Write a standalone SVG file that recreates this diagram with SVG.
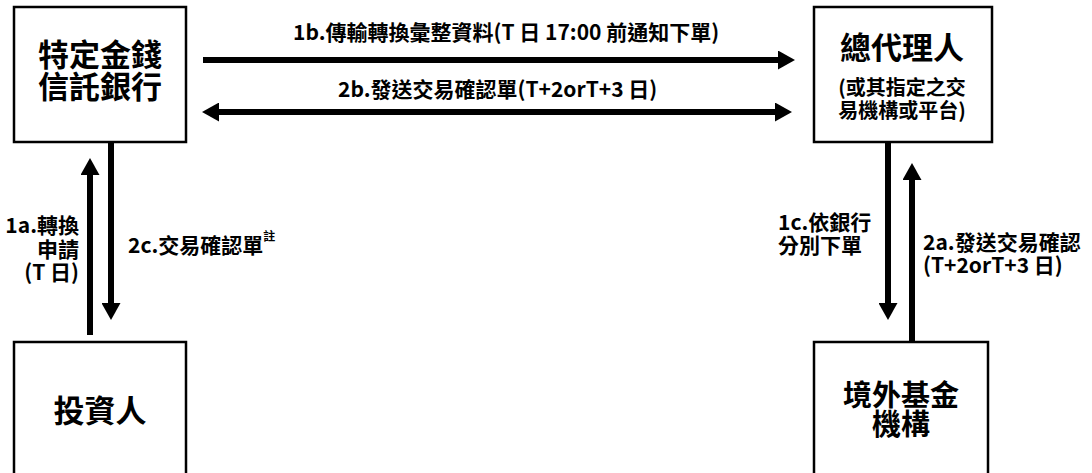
<svg xmlns="http://www.w3.org/2000/svg" width="1092" height="473" viewBox="0 0 1092 473">
<style>
  .box { fill: #ffffff; stroke: #000000; stroke-width: 2.5; }
  .t { font-family: "Noto Sans CJK TC", "Noto Sans", sans-serif; fill: #000000; font-weight: bold; }
  .big { font-size: 31px; }
  .mid { font-size: 20px; }
  .lbl { font-size: 21px; }
  .c { text-anchor: middle; }
  .conn { stroke: #000000; stroke-width: 6; fill: none; }
</style>
<defs>
  <marker id="ah" markerUnits="userSpaceOnUse" markerWidth="18" markerHeight="19" refX="1" refY="9.5" orient="auto-start-reverse" viewBox="0 0 18 19">
    <path d="M0,0 L17,9.5 L0,19 z" fill="#000000"/>
  </marker>
</defs>
<rect width="1092" height="473" fill="#ffffff"/>

<g id="node-bank">
  <rect class="box" x="14" y="7" width="172" height="135"/>
  <text class="t big c" x="100" y="66">特定金錢<tspan x="100" dy="32">信託銀行</tspan></text>
</g>

<g id="node-agent">
  <rect class="box" x="814" y="7" width="178" height="135"/>
  <text class="t big c" x="902" y="59">總代理人</text>
  <text class="t mid c" x="902" y="95">(或其指定之交<tspan x="902" dy="23">易機構或平台)</tspan></text>
</g>

<g id="node-investor">
  <rect class="box" x="14" y="342" width="172" height="145"/>
  <text class="t big c" x="100" y="422">投資人</text>
</g>

<g id="node-fund">
  <rect class="box" x="814" y="342" width="174" height="145"/>
  <text class="t c" style="font-size:29px" x="901" y="406">境外基金<tspan x="901" dy="29">機構</tspan></text>
</g>

<g id="connectors">
  <line class="conn" x1="203" y1="60" x2="779" y2="60" marker-end="url(#ah)"/>
  <line class="conn" x1="218" y1="112" x2="776" y2="112" marker-start="url(#ah)" marker-end="url(#ah)"/>
  <line class="conn" x1="90" y1="335" x2="90" y2="174" marker-end="url(#ah)"/>
  <line class="conn" x1="111" y1="142" x2="111" y2="304" marker-end="url(#ah)"/>
  <line class="conn" x1="888" y1="142" x2="888" y2="304" marker-end="url(#ah)"/>
  <line class="conn" x1="912" y1="342" x2="912" y2="179" marker-end="url(#ah)"/>
</g>

<g id="labels">
  <text class="t lbl" x="293" y="40">1b.傳輸轉換彙整資料(T 日 17:00 前通知下單)</text>
  <text class="t lbl" x="338" y="97">2b.發送交易確認單(T+2orT+3 日)</text>
  <text class="t lbl" text-anchor="end" x="79" y="233">1a.轉換<tspan x="79" dy="24">申請</tspan><tspan x="79" dy="23">(T 日)</tspan></text>
  <text class="t lbl" x="128" y="253">2c.交易確認單<tspan style="font-size:12px" dy="-12">註</tspan></text>
  <text class="t lbl" x="778" y="230">1c.依銀行<tspan x="778" dy="23">分別下單</tspan></text>
  <text class="t lbl" x="923" y="250">2a.發送交易確認<tspan x="923" dy="23">(T+2orT+3 日)</tspan></text>
</g>
</svg>
